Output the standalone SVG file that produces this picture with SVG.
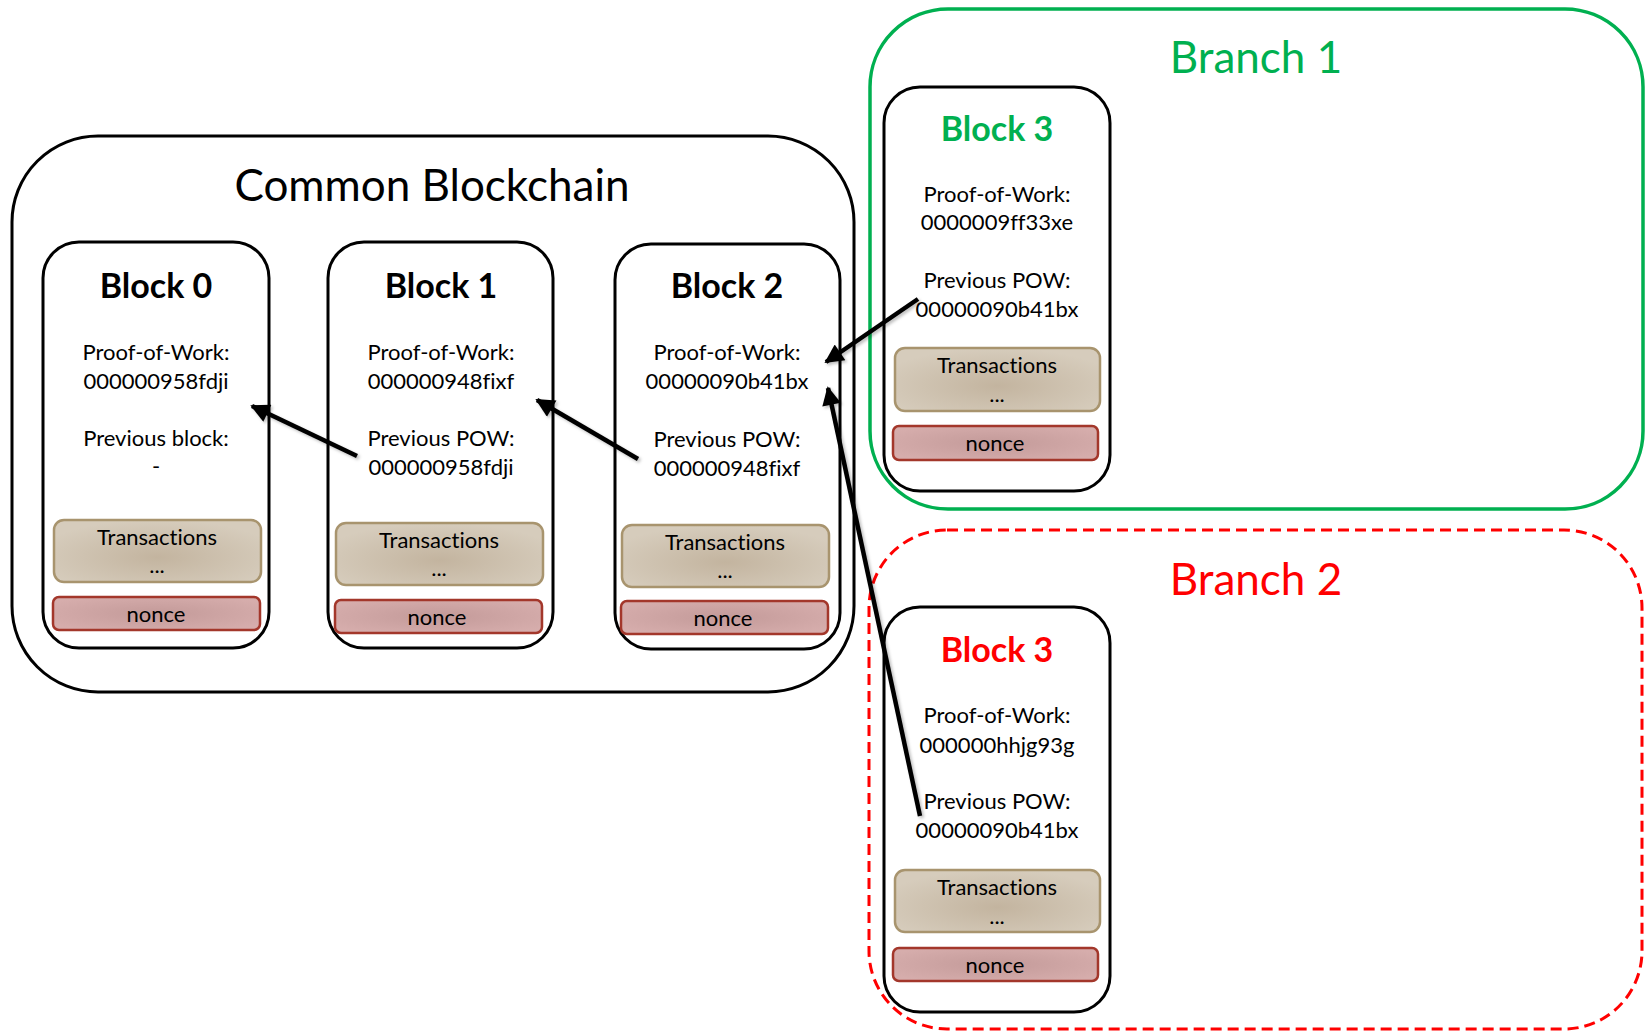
<svg xmlns="http://www.w3.org/2000/svg" width="1645" height="1031" viewBox="0 0 1645 1031">
<style>
text{font-family:Lato,"Liberation Sans",sans-serif;text-anchor:middle;fill:#000;font-variant-ligatures:none}
.big{font-size:44px}
.ttl{font-size:34px;font-weight:bold}
.t{font-size:22px}
.blk{fill:#fff;stroke:#000;stroke-width:3}
.tx{fill:url(#gT);stroke:#A8946E;stroke-width:2.5}
.nc{fill:url(#gN);stroke:#A3372B;stroke-width:2.5}
.conn{stroke:#000;stroke-width:4.5;fill:none;marker-end:url(#ah);filter:url(#sh)}
</style>
<defs>
<radialGradient id="gT" cx="0.5" cy="0.6" r="0.6">
<stop offset="0" stop-color="#C3B49F"/><stop offset="1" stop-color="#D6CCBC"/>
</radialGradient>
<radialGradient id="gN" cx="0.5" cy="0.5" r="0.6">
<stop offset="0" stop-color="#C39A99"/><stop offset="1" stop-color="#D6ADAC"/>
</radialGradient>
<marker id="ah" viewBox="0 0 10 10" refX="9" refY="5" markerWidth="5" markerHeight="4.2" orient="auto" markerUnits="strokeWidth">
<path d="M0,0 L10,5 L0,10 z" fill="#000"/>
</marker>
<filter id="sh" x="-20%" y="-20%" width="140%" height="140%">
<feDropShadow dx="2" dy="2" stdDeviation="1.5" flood-color="#000" flood-opacity="0.25"/>
</filter>
</defs>

<g id="common-blockchain">
<rect x="12" y="136" width="842" height="556" rx="86" ry="86" fill="none" stroke="#000" stroke-width="3"/>
<text class="big" x="432" y="201">Common Blockchain</text>
</g>

<g id="branch-1">
<rect x="870" y="9" width="773" height="500" rx="78" ry="78" fill="none" stroke="#00B050" stroke-width="3.5"/>
<text class="big" x="1256" y="73" style="fill:#00B050">Branch 1</text>
</g>

<g id="branch-2">
<rect x="869" y="530" width="773" height="499" rx="78" ry="78" fill="none" stroke="#FF0000" stroke-width="3" stroke-dasharray="11 6"/>
<text class="big" x="1256" y="595" style="fill:#FF0000">Branch 2</text>
</g>

<g id="block-0">
<rect class="blk" x="43" y="242" width="226" height="406" rx="36"/>
<text class="ttl" x="156" y="298">Block 0</text>
<text class="t" x="156" y="360">Proof-of-Work:</text>
<text class="t" x="156" y="389">000000958fdji</text>
<text class="t" x="156" y="446">Previous block:</text>
<text class="t" x="156" y="474">-</text>
<rect class="tx" x="54" y="520" width="207" height="62" rx="10"/>
<text class="t" x="157" y="545">Transactions</text>
<text class="t" x="157" y="573">...</text>
<rect class="nc" x="53" y="597" width="207" height="33" rx="6"/>
<text class="t" x="156" y="622">nonce</text>
</g>

<g id="block-1">
<rect class="blk" x="328" y="242" width="225" height="406" rx="36"/>
<text class="ttl" x="441" y="298">Block 1</text>
<text class="t" x="441" y="360">Proof-of-Work:</text>
<text class="t" x="441" y="389">000000948fixf</text>
<text class="t" x="441" y="446">Previous POW:</text>
<text class="t" x="441" y="475">000000958fdji</text>
<rect class="tx" x="336" y="523" width="207" height="62" rx="10"/>
<text class="t" x="439" y="548">Transactions</text>
<text class="t" x="439" y="576">...</text>
<rect class="nc" x="335" y="600" width="207" height="33" rx="6"/>
<text class="t" x="437" y="625">nonce</text>
</g>

<g id="block-2">
<rect class="blk" x="615" y="244" width="225" height="405" rx="36"/>
<text class="ttl" x="727" y="298">Block 2</text>
<text class="t" x="727" y="360">Proof-of-Work:</text>
<text class="t" x="727" y="389">00000090b41bx</text>
<text class="t" x="727" y="447">Previous POW:</text>
<text class="t" x="727" y="476">000000948fixf</text>
<rect class="tx" x="622" y="525" width="207" height="62" rx="10"/>
<text class="t" x="725" y="550">Transactions</text>
<text class="t" x="725" y="578">...</text>
<rect class="nc" x="621" y="601" width="207" height="33" rx="6"/>
<text class="t" x="723" y="626">nonce</text>
</g>

<g id="block-3-branch-1">
<rect class="blk" x="884" y="87" width="226" height="404" rx="36"/>
<text class="ttl" x="997" y="141" style="fill:#00B050">Block 3</text>
<text class="t" x="997" y="202">Proof-of-Work:</text>
<text class="t" x="997" y="230">0000009ff33xe</text>
<text class="t" x="997" y="288">Previous POW:</text>
<text class="t" x="997" y="317">00000090b41bx</text>
<rect class="tx" x="895" y="348" width="205" height="63" rx="10"/>
<text class="t" x="997" y="373">Transactions</text>
<text class="t" x="997" y="402">...</text>
<rect class="nc" x="893" y="426" width="205" height="34" rx="6"/>
<text class="t" x="995" y="451">nonce</text>
</g>

<g id="block-3-branch-2">
<rect class="blk" x="884" y="607" width="226" height="405" rx="36"/>
<text class="ttl" x="997" y="662" style="fill:#FF0000">Block 3</text>
<text class="t" x="997" y="723">Proof-of-Work:</text>
<text class="t" x="997" y="753">000000hhjg93g</text>
<text class="t" x="997" y="809">Previous POW:</text>
<text class="t" x="997" y="838">00000090b41bx</text>
<rect class="tx" x="895" y="870" width="205" height="62" rx="10"/>
<text class="t" x="997" y="895">Transactions</text>
<text class="t" x="997" y="924">...</text>
<rect class="nc" x="893" y="948" width="205" height="33" rx="6"/>
<text class="t" x="995" y="973">nonce</text>
</g>

<g id="connectors">
<line class="conn" x1="357" y1="456" x2="252" y2="406"/>
<line class="conn" x1="638" y1="459" x2="537" y2="400"/>
<line class="conn" x1="918" y1="299" x2="826" y2="362"/>
<line class="conn" x1="920" y1="816" x2="828" y2="388"/>
</g>
</svg>
